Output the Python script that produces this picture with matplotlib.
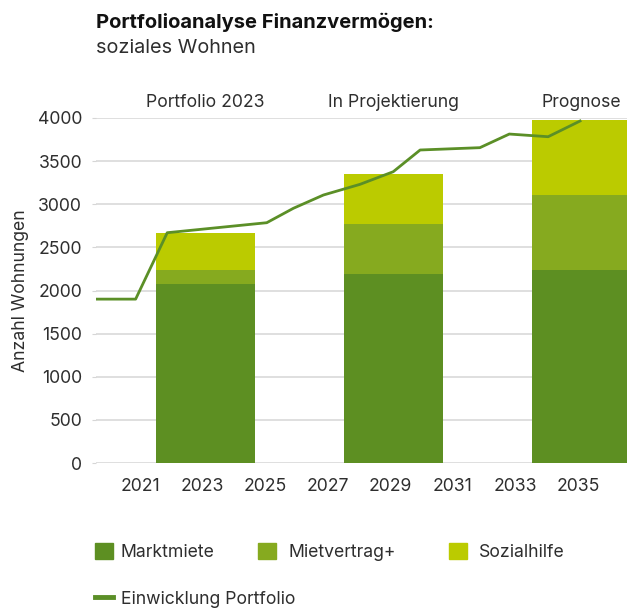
import numpy as np
import matplotlib.pyplot as plt
from matplotlib.patches import Patch
from matplotlib.lines import Line2D

plt.rcParams["font.family"] = ["Inter", "DejaVu Sans"]

# Data
periods = ["Portfolio 2023", "In Projektierung", "Prognose"]
bar_years = [2023, 2029, 2035]
marktmiete = [2075, 2195, 2238]
mietvertrag = [163, 576, 869]
sozialhilfe = [432, 580, 870]

line_years = [2019.6, 2020.86, 2021.87, 2025.05, 2025.9, 2026.86, 2028.03,
              2029.09, 2029.95, 2031.86, 2032.8, 2034.04, 2035.06]
line_values = [1900, 1900, 2670, 2786, 2953, 3107, 3231,
               3377, 3629, 3656, 3814, 3783, 3965]

c_markt = "#5d8f22"
c_miet = "#86aa1f"
c_sozial = "#bbcb00"
c_line = "#5b8f27"
text_col = "#2e2e2e"
fs = 12.7

W, H = 627, 610
fig = plt.figure(figsize=(W / 100, H / 100), dpi=100)
ax = fig.add_axes([96 / W, 1 - 463 / H, (W - 96) / W, 345 / H])

bw = 3.16
xb = np.array(bar_years) + 0.1
markt = np.array(marktmiete)
miet = np.array(mietvertrag)
sozial = np.array(sozialhilfe)
ax.bar(xb, markt, width=bw, color=c_markt, zorder=2)
ax.bar(xb, miet, width=bw, bottom=markt, color=c_miet, zorder=2)
ax.bar(xb, sozial, width=bw, bottom=markt + miet, color=c_sozial, zorder=2)

ax.plot(line_years, line_values, color=c_line, lw=2.0, zorder=3)

ax.set_xlim(2019.594, 2036.56)
ax.set_ylim(0, 4000)
ax.set_yticks(np.arange(0, 4001, 500))
ax.set_xticks(np.arange(2021, 2036, 2))

ax.grid(axis="y", color="#d6d6d6", lw=1.1, zorder=0)
ax.set_axisbelow(True)
for s in ax.spines.values():
    s.set_visible(False)

ax.tick_params(axis="y", length=3, color="#d6d6d6", pad=7,
               labelsize=fs, labelcolor=text_col)
ax.tick_params(axis="x", length=0, pad=11, labelsize=fs, labelcolor=text_col)

ax.set_ylabel("Anzahl Wohnungen", fontsize=fs, color=text_col)
ax.yaxis.set_label_coords((29 - 96) / (W - 96), 0.5)

for x, p in zip(xb, periods):
    ax.text(x, 1.0435, p, transform=ax.get_xaxis_transform(),
            ha="center", va="center", fontsize=fs, color=text_col)

fig.text(96 / W, 1 - 22 / H, "Portfolioanalyse Finanzvermögen:",
         ha="left", va="center", fontsize=14.5, fontweight="bold", color="#111111")
fig.text(96 / W, 1 - 48 / H, "soziales Wohnen",
         ha="left", va="center", fontsize=14.3, color=text_col)

# legend entries placed one by one
entries = [
    (Patch(color=c_markt, label="Marktmiete"), 95, 552, 0.45),
    (Patch(color=c_miet, label="Mietvertrag+"), 258, 552, 0.75),
    (Patch(color=c_sozial, label="Sozialhilfe"), 449, 552, 0.7),
    (Line2D([], [], color=c_line, lw=3.5, label="Einwicklung Portfolio"), 95, 599, 0.45),
]
for h, px, py, pad in entries:
    leg = fig.legend(handles=[h], loc="center left",
                     bbox_to_anchor=(px / W, 1 - py / H), frameon=False,
                     fontsize=fs, handlelength=1.0, handleheight=1.0,
                     handletextpad=pad, borderpad=0, borderaxespad=0)
    for t in leg.get_texts():
        t.set_color(text_col)

fig.savefig("out.png", dpi=100)
